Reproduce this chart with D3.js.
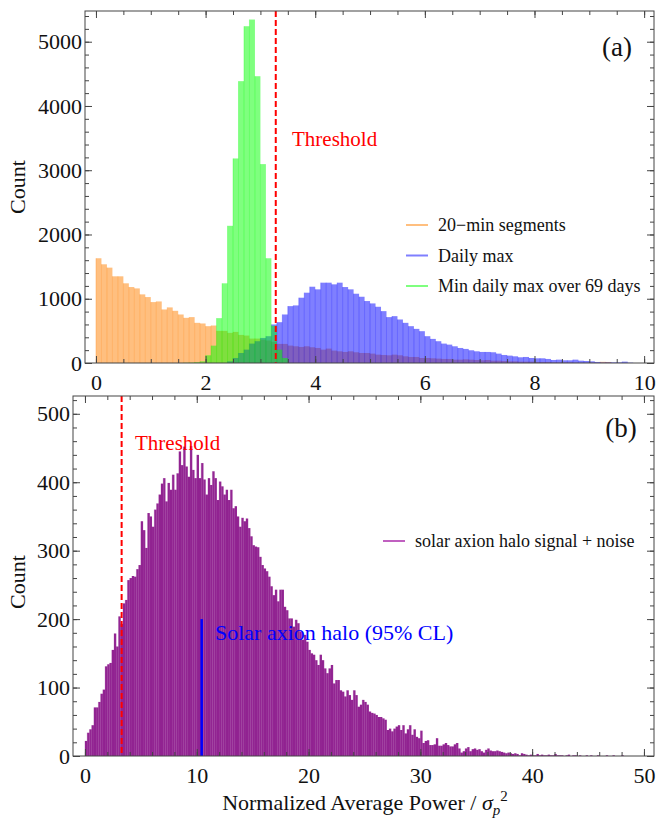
<!DOCTYPE html>
<html>
<head>
<meta charset="utf-8">
<script src="https://cdn.jsdelivr.net/npm/d3@7"></script>
<style>
body { margin: 0; background: #fff; }
</style>
</head>
<body>
<svg width="657" height="818"></svg>
<script>
// ---- panel (a): counts per 0.1 wide bin ----
var binA = 0.1;
var segStart = 0;
var segCounts = [1630,1536,1484,1349,1349,1240,1182,1161,1068,1026,948,958,833,865,812,755,703,714,625,615,
	573,583,500,500,469,484,437,427,380,380,365,350,330,297,297,271,260,250,260,245,234,
	208,224,193,182,172,182,167,156,156,146,130,125,120,130,120,104,94,94,78,78,73,68,63,63,
	52,52,57,52,47,42,47,36,36,31,26,26,21,21,21,16,16,16,10,10,10,10,5,5,5,5,5,18,16];
var dailyStart = 2.4;
var dailyCounts = [26,78,156,208,302,339,390,417,600,635,755,885,896,1016,1094,1187,1146,1250,1250,1224,
	1250,1182,1146,1078,1031,964,927,875,807,714,729,677,625,573,531,495,417,375,339,302,
	286,260,234,219,198,182,172,172,167,146,125,115,104,89,94,78,73,73,63,47,52,42,42,52,36,31,26,16,8,10,10,10,21,5];
var minStart = 1.6;
var minCounts = [3,5,12,26,120,270,698,1240,2135,3183,4386,5241,5345,4463,3095,1630,580,208,78];

// ---- panel (b): counts per 0.2 wide bin ----
var binB = 0.2;
var haloStart = 0;
var haloCounts = [22,34,39,45,71,71,79,91,97,131,134,136,155,179,160,204,193,223,228,257,260,263,262,273,279,
	343,330,304,355,350,335,360,369,382,398,406,372,399,389,411,389,413,445,425,452,423,408,
	453,418,406,440,406,428,404,382,406,396,416,406,374,401,394,382,389,374,389,362,365,350,335,348,343,347,
	333,321,308,306,305,291,279,274,270,262,248,235,243,226,243,243,218,213,201,201,189,
	199,194,182,170,177,167,155,150,148,140,133,148,140,128,121,128,133,106,111,111,96,94,87,96,89,82,96,89,
	72,75,82,79,75,65,63,62,60,57,57,55,53,38,40,36,40,43,45,
	38,45,33,39,45,31,39,28,26,37,19,22,23,16,16,17,26,15,15,17,19,16,14,14,17,19,11,5,7,11,13,7,10,11,9,
	10,7,5,9,11,8,7,7,8,7,6,5,4,5,4,3,4,3,1,4,3,2,1,2,1,1,3,1,2,1,1,2,1,1,3,1,1,
	1,0,1,2,0,1,1,0,1,0,0,1,0,1,0,0,1,0,0,0,1,0,0,1,0,0,0,1];

var threshold = 3.28;
var haloLimit = 10.44, haloLimitCount = 200;

var seriesA = ["20\u2212min segments", "Daily max", "Min daily max over 69 days"];
var colorsA = ["#ff7f00", "#0000ff", "#00ff00"];
var seriesB = "solar axion halo signal + noise";

var xTicksA = [0,2,4,6,8,10], xMinorA = d3.range(0, 10.01, 0.5);
var yTicksA = [0,1000,2000,3000,4000,5000], yMinorA = d3.range(0, 5401, 200);
var xTicksB = [0,10,20,30,40,50], xMinorB = d3.range(0, 51, 2);
var yTicksB = [0,100,200,300,400,500], yMinorB = d3.range(0, 521, 20);

var serif = "'Liberation Serif', 'Times New Roman', Times, 'DejaVu Serif', serif";

function toBins(start, w, counts){
	return counts.map(function(c, i){ return {x0: start + i*w, x1: start + (i+1)*w, n: c}; });
}

var svg = d3.select("svg").style("font-family", serif);

// scales
var xA = d3.scaleLinear().domain([-0.2, 10.18]).range([85, 654]);
var yA = d3.scaleLinear().domain([0, 5478]).range([363, 11]);
var xB = d3.scaleLinear().domain([-1.07, 50.9]).range([73, 654]);
var yB = d3.scaleLinear().domain([0, 526]).range([756, 396]);

function label(x, y, size, color, txt){
	return svg.append("text").attr("x", x).attr("y", y)
		.attr("font-family", serif).attr("font-size", size).attr("fill", color).text(txt);
}

function frame(x, y, xt, xm, yt, ym){
	var g = svg.append("g");
	var x0 = x.range()[0], x1 = x.range()[1], y0 = y.range()[0], y1 = y.range()[1];
	function ax(axis, tr, vals, size, labels){
		var a = g.append("g").attr("transform", tr)
			.call(axis.tickValues(vals).tickSize(-size).tickPadding(labels ? 11 : 0)
				.tickFormat(labels ? d3.format("d") : ""));
		a.select(".domain").remove();
		a.selectAll("line").attr("stroke", "#444");
		a.attr("font-family", serif).attr("font-size", 22);
		a.selectAll("text").attr("fill", "#111").attr("font-family", serif);
		return a;
	}
	ax(d3.axisBottom(x), "translate(0," + y0 + ")", xt, 7, true);
	ax(d3.axisBottom(x), "translate(0," + y0 + ")", xm, 4, false);
	ax(d3.axisTop(x), "translate(0," + y1 + ")", xt, 7, false);
	ax(d3.axisTop(x), "translate(0," + y1 + ")", xm, 4, false);
	var l = ax(d3.axisLeft(y), "translate(" + x0 + ",0)", yt, 7, true);
	l.selectAll("text").attr("x", -3);
	ax(d3.axisLeft(y), "translate(" + x0 + ",0)", ym, 4, false);
	ax(d3.axisRight(y), "translate(" + x1 + ",0)", yt, 7, false);
	ax(d3.axisRight(y), "translate(" + x1 + ",0)", ym, 4, false);
	g.append("rect").attr("x", x0).attr("y", y1).attr("width", x1 - x0).attr("height", y0 - y1)
		.attr("fill", "none").attr("stroke", "#444").attr("stroke-width", 1);
}

function histo(x, y, bins, color, fo, edge){
	var g = svg.append("g");
	var shown = bins.filter(function(d){ return d.n > 0; });
	g.selectAll("rect").data(shown).enter().append("rect")
		.attr("x", function(d){ return x(d.x0); })
		.attr("y", function(d){ return y(d.n); })
		.attr("width", function(d){ return x(d.x1) - x(d.x0); })
		.attr("height", function(d){ return y(0) - y(d.n); })
		.attr("fill", color).attr("fill-opacity", fo);
	g.selectAll("line").data(shown).enter().append("line")
		.attr("x1", function(d){ return x(d.x0); }).attr("x2", function(d){ return x(d.x0); })
		.attr("y1", function(d){ return y(d.n); }).attr("y2", y(0))
		.attr("stroke", color).attr("stroke-opacity", edge).attr("stroke-width", 0.8);
}

// ---- panel (a) ----
histo(xA, yA, toBins(segStart, binA, segCounts), colorsA[0], 0.5, 0.35);
histo(xA, yA, toBins(dailyStart, binA, dailyCounts), colorsA[1], 0.5, 0.35);
histo(xA, yA, toBins(minStart, binA, minCounts), colorsA[2], 0.5, 0.35);

svg.append("line").attr("x1", xA(threshold)).attr("x2", xA(threshold))
	.attr("y1", yA.range()[1]).attr("y2", yA.range()[0])
	.attr("stroke", "#ff0000").attr("stroke-width", 2).attr("stroke-dasharray", "6,3");
label(292, 146, 21, "#ff0000", "Threshold");
label(617, 56, 27, "#111", "(a)").attr("text-anchor", "middle");

var legA = svg.append("g");
seriesA.forEach(function(s, i){
	var yy = 225 + i*30.5;
	legA.append("line").attr("x1", 406).attr("x2", 428).attr("y1", yy).attr("y2", yy)
		.attr("stroke", colorsA[i]).attr("stroke-opacity", 0.5).attr("stroke-width", 2);
	label(438, yy + 6, 18, "#111", s);
});

frame(xA, yA, xTicksA, xMinorA, yTicksA, yMinorA);

// ---- panel (b) ----
histo(xB, yB, toBins(haloStart, binB, haloCounts), "#800080", 0.85, 0.25);

svg.append("line").attr("x1", xB(threshold)).attr("x2", xB(threshold))
	.attr("y1", yB.range()[1]).attr("y2", yB.range()[0])
	.attr("stroke", "#ff0000").attr("stroke-width", 2).attr("stroke-dasharray", "6,3");
label(135, 450, 21, "#ff0000", "Threshold");

svg.append("line").attr("x1", xB(haloLimit)).attr("x2", xB(haloLimit))
	.attr("y1", yB(haloLimitCount)).attr("y2", yB(0))
	.attr("stroke", "#0000ff").attr("stroke-width", 2.5);
label(215, 640, 22, "#0000ff", "Solar axion halo (95% CL)");

label(621, 437, 27, "#111", "(b)").attr("text-anchor", "middle");

svg.append("line").attr("x1", 383).attr("x2", 405).attr("y1", 541).attr("y2", 541)
	.attr("stroke", "#c060c0").attr("stroke-width", 2);
label(415, 547, 18, "#111", seriesB);

frame(xB, yB, xTicksB, xMinorB, yTicksB, yMinorB);

// ---- axis titles ----
label(0, 0, 22, "#111", "Count").attr("transform", "translate(25,187) rotate(-90)").attr("text-anchor", "middle");
label(0, 0, 22, "#111", "Count").attr("transform", "translate(25,582) rotate(-90)").attr("text-anchor", "middle");

var xt = label(365, 810, 22, "#111", null).attr("text-anchor", "middle");
xt.append("tspan").text("Normalized Average Power / ");
xt.append("tspan").attr("font-style", "italic").text("\u03c3");
xt.append("tspan").attr("font-style", "italic").attr("font-size", 15).attr("dy", 5).text("p");
xt.append("tspan").attr("font-size", 15).attr("dy", -14).text("2");
</script>
</body>
</html>
